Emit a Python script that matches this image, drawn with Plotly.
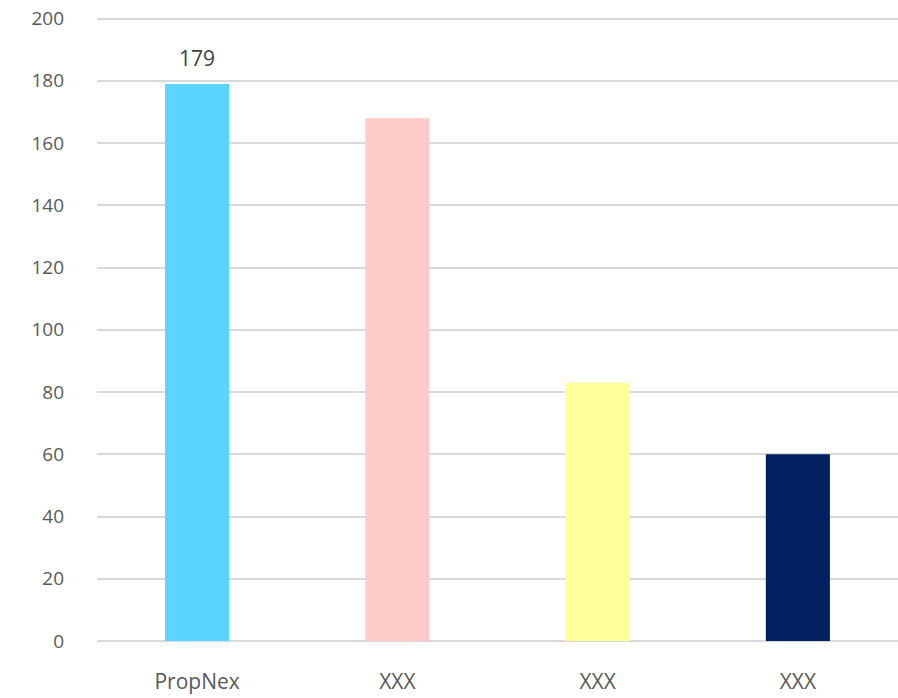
import plotly.graph_objects as go

categories = ["PropNex", "XXX", "XXX ", "XXX  "]
tick_text = ["PropNex", "XXX", "XXX", "XXX"]
values = [179, 168, 83, 60]
colors = ["#5BD4FF", "#FFCACA", "#FFFF99", "#002060"]
labelled = [True, False, False, False]
y_ticks = [0, 20, 40, 60, 80, 100, 120, 140, 160, 180, 200]

fig = go.Figure()
fig.add_trace(go.Bar(
    x=categories, y=values,
    marker=dict(color=colors, line=dict(width=0)),
    cliponaxis=False,
))

for c, v, show in zip(categories, values, labelled):
    if show:
        fig.add_annotation(
            x=c, y=v, text=str(v), showarrow=False,
            yanchor="bottom", yshift=10,
            font=dict(size=21, color="#404040"),
        )

fig.update_layout(
    width=898, height=698,
    margin=dict(l=97, r=0, t=17, b=57),
    paper_bgcolor="white", plot_bgcolor="white",
    font=dict(family="Open Sans", color="#595959"),
    bargap=0.68,
    showlegend=False,
    xaxis=dict(
        tickmode="array", tickvals=categories,
        ticktext=tick_text,
        tickfont=dict(size=21, color="#595959"),
        showgrid=False, showline=False, ticks="",
        ticklabelstandoff=26,
    ),
    yaxis=dict(
        range=[0, 200.5], tickvals=y_ticks,
        tickfont=dict(size=19, color="#595959"),
        showgrid=True, gridcolor="#D9D9D9", gridwidth=2,
        zeroline=True, zerolinecolor="#D9D9D9", zerolinewidth=2,
        showline=False, ticks="",
        ticklabelstandoff=32,
    ),
)

fig.write_html("out.html")
